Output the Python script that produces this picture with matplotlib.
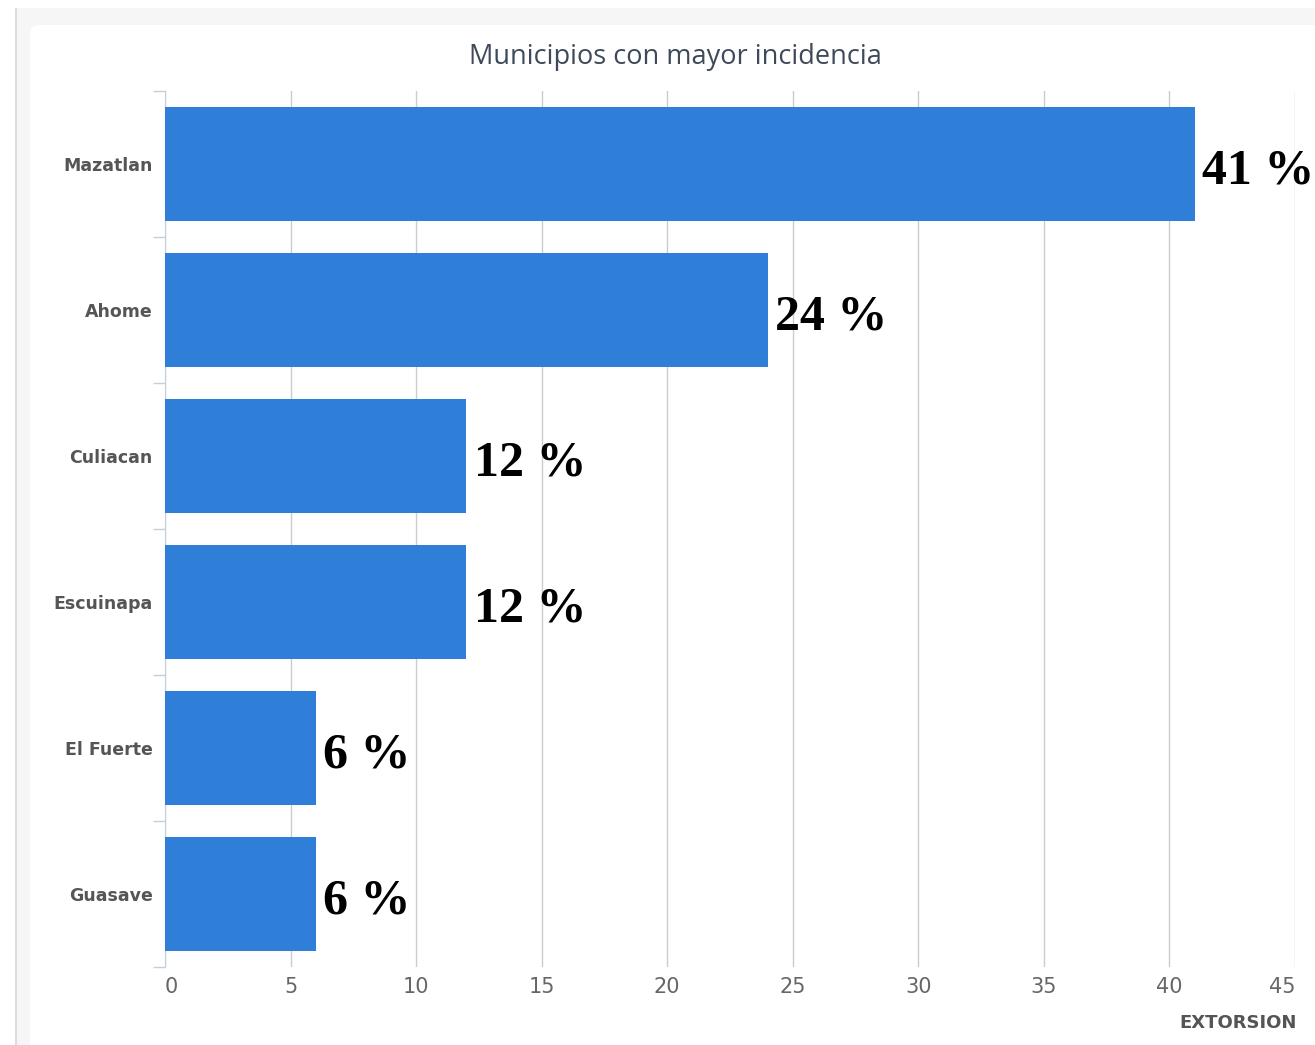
import matplotlib.pyplot as plt
from matplotlib.patches import Rectangle, FancyBboxPatch

# Datos
municipios = ["Mazatlan", "Ahome", "Culiacan", "Escuinapa", "El Fuerte", "Guasave"]
porcentajes = [41, 24, 12, 12, 6, 6]
ticks_x = [0, 5, 10, 15, 20, 25, 30, 35, 40, 45]

W, H = 1315, 1045
fig = plt.figure(figsize=(W / 100, H / 100), dpi=100)
fig.patch.set_facecolor("white")

# Marco de fondo (panel gris claro con tarjeta blanca)
fig.patches.append(Rectangle((16 / W, 0), 1 - 16 / W, 1 - 8 / H, transform=fig.transFigure,
                             facecolor="#f6f6f6", edgecolor="none", zorder=-3))
fig.patches.append(Rectangle((15 / W, 0), 2 / W, 1 - 8 / H, transform=fig.transFigure,
                             facecolor="#dcdcdc", edgecolor="none", zorder=-2))
fig.patches.append(FancyBboxPatch((30 / W, -0.05), 1.1, 1 - 25 / H + 0.05,
                                  boxstyle="round,pad=0,rounding_size=0.008",
                                  transform=fig.transFigure, facecolor="white",
                                  edgecolor="none", zorder=-1))

ax = fig.add_axes([165 / W, 1 - 967 / H, (1295 - 165) / W, (967 - 91) / H])
ax.set_facecolor("none")

y = list(range(len(municipios)))
ax.barh(y, porcentajes, height=0.78, color="#2f7ed8", zorder=3)

for yi, v in zip(y, porcentajes):
    ax.text(v + 0.3, yi + 0.05, f"{v} %", va="center", ha="left",
            fontsize=36, fontweight="bold", family="Liberation Serif",
            color="black", zorder=4, clip_on=False)

ax.set_xlim(0, 45)
ax.set_ylim(len(municipios) - 0.5, -0.5)

ax.set_xticks(ticks_x)
ax.set_xticklabels([str(t) for t in ticks_x], fontsize=15, color="#666666")
ax.tick_params(axis="x", length=0, pad=7)
labels = ax.get_xticklabels()
labels[0].set_ha("left")
labels[-1].set_ha("right")
ax.grid(axis="x", color="#cccccc", linewidth=1, zorder=0)

ax.set_yticks(y)
ax.set_yticklabels(municipios, fontsize=12.5, fontweight="bold", color="#555555")
ax.tick_params(axis="y", which="major", length=0, pad=9)
ax.set_yticks([i - 0.5 for i in range(len(municipios) + 1)], minor=True)
ax.tick_params(axis="y", which="minor", length=9, color="#c0d0e0", width=1)

for s in ["top", "right", "bottom"]:
    ax.spines[s].set_visible(False)
ax.spines["left"].set_color("#c0d0e0")

fig.text(675 / W, 1 - 57 / H, "Municipios con mayor incidencia", ha="center", va="center",
         fontsize=19.5, color="#3e4a5a", family="Open Sans")
fig.text(1297 / W, 1 - 1023 / H, "EXTORSION", ha="right", va="center",
         fontsize=13, fontweight="bold", color="#555555", family="Liberation Sans Narrow")

plt.savefig("out.png", dpi=100)
